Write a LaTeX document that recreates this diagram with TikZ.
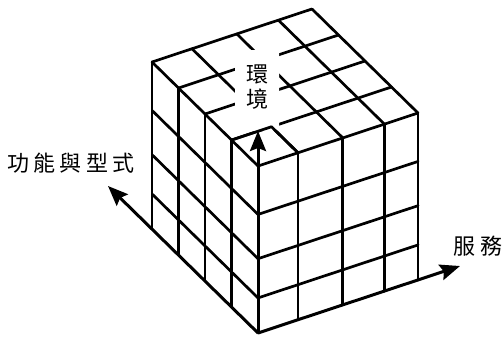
\documentclass[tikz,border=0pt]{standalone}
\usepackage{fontspec}
\newfontfamily\cjk{Noto Sans CJK TC}
\usetikzlibrary{arrows.meta,calc}
\begin{document}
\begin{tikzpicture}[x=1pt,y=-1pt,
  grid/.style={line width=2.7pt, line cap=round, line join=round},
  axis/.style={line width=3pt, -{Stealth[length=20pt,width=16pt,inset=3pt]}},
  lbl/.style={font=\cjk\fontsize{22}{25}\selectfont, inner sep=0pt, align=center}]
\useasboundingbox (0,0) rectangle (504,338);
\coordinate (F) at (258,333);
\coordinate (T) at (258,166);
% right face
\foreach \r in {0,0.25,0.53,0.79,1} \draw[grid] ($(F)+\r*(160,-53)$) -- ++(0,-167);
\foreach \h in {0.21,0.445,0.71,1} \draw[grid] ($(F)+\h*(0,-167)$) -- ++(160,-53);
% left face
\foreach \a in {0.25,0.5,0.75,1} \draw[grid] ($(F)+\a*(-106,-104)$) -- ++(0,-167);
\foreach \h in {0.21,0.445,0.71,1} \draw[grid] ($(F)+\h*(0,-167)$) -- ++(-106,-104);
% top face
\foreach \r in {0.25,0.53,0.79,1} \draw[grid] ($(T)+\r*(160,-53)$) -- ++(-106,-104);
\foreach \a in {0.25,0.5,0.75,1} \draw[grid] ($(T)+\a*(-106,-104)$) -- ++(160,-53);
% gap around the label
\fill[white] (235,50) -- (279,50) -- (279,128) -- (272,131) -- (235,131) -- cycle;
\draw[grid] ($(T)+0.25*(-106,-104)$) -- ($(T)+0.25*(-106,-104)+0.25*(160,-53)$) -- ($(T)+0.25*(160,-53)$);
% labels
\node[lbl] (env) at (257,87) {環\\境};
\node[lbl] (func) at (71,163) {功\kern4.5pt能\kern4.5pt與\kern4.5pt型\kern4.5pt式};
\node[lbl] (serv) at (478,246) {服\kern5pt務};
% axes
\coordinate (O) at (258,333);
\coordinate (zt) at (258,131);
\coordinate (xt) at (108,186);
\coordinate (yt) at (460,266);
\draw[axis] (O) -- (zt);
\draw[axis] (O) -- (xt);
\draw[axis] (O) -- (yt);
\end{tikzpicture}
\end{document}
